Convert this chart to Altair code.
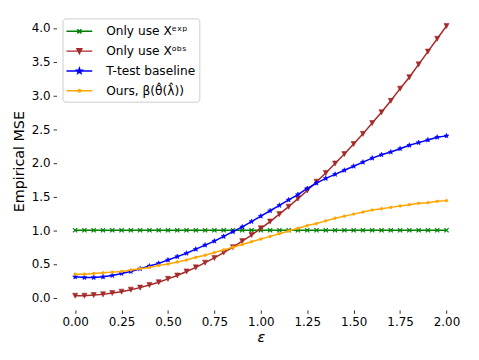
import altair as alt
import pandas as pd
import math

eps = [round(i * 0.05, 2) for i in range(41)]

names = ["Only use Xᵉˣᵖ", "Only use Xᵒᵇˢ", "T-test baseline", "Ours, β(θ̂(λ̂))"]
colors = ["#008000", "#a52a2a", "#0000ff", "#ffa500"]

mse_exp = [1.0] * 41
mse_obs = [0.03, 0.03, 0.04, 0.05, 0.07, 0.09, 0.12, 0.15, 0.19, 0.23, 0.28, 0.33, 0.39, 0.45,
           0.52, 0.59, 0.67, 0.75, 0.84, 0.93, 1.03, 1.13, 1.24, 1.35, 1.47, 1.59, 1.72, 1.85,
           1.99, 2.13, 2.28, 2.43, 2.59, 2.75, 2.92, 3.10, 3.27, 3.46, 3.65, 3.84, 4.03]
mse_ttest = [0.31, 0.30, 0.30, 0.31, 0.33, 0.36, 0.39, 0.43, 0.47, 0.51, 0.56, 0.61, 0.66, 0.72,
             0.78, 0.84, 0.91, 0.98, 1.05, 1.13, 1.21, 1.29, 1.37, 1.45, 1.53, 1.62, 1.70, 1.77,
             1.83, 1.89, 1.95, 2.01, 2.07, 2.12, 2.16, 2.21, 2.26, 2.30, 2.34, 2.38, 2.40]
mse_ours = [0.35, 0.35, 0.36, 0.37, 0.38, 0.39, 0.41, 0.43, 0.45, 0.48, 0.50, 0.53, 0.56, 0.60,
            0.63, 0.67, 0.71, 0.75, 0.79, 0.83, 0.87, 0.91, 0.95, 0.99, 1.03, 1.07, 1.10, 1.14,
            1.18, 1.21, 1.24, 1.27, 1.30, 1.32, 1.34, 1.36, 1.38, 1.40, 1.41, 1.43, 1.44]

x_ticks = [0, 0.25, 0.5, 0.75, 1.0, 1.25, 1.5, 1.75, 2.0]
y_ticks = [0, 0.5, 1.0, 1.5, 2.0, 2.5, 3.0, 3.5, 4.0]

series_vals = [mse_exp, mse_obs, mse_ttest, mse_ours]
rows = []
for n, vals in zip(names, series_vals):
    for e, v in zip(eps, vals):
        rows.append({"eps": e, "mse": v, "series": n})
df = pd.DataFrame(rows)


def star(r_out, r_in):
    pts = []
    for k in range(10):
        r = r_out if k % 2 == 0 else r_in
        a = -math.pi / 2 + k * math.pi / 5
        pts.append((r * math.cos(a), r * math.sin(a)))
    return "M" + "L".join(f"{x:.3f},{y:.3f}" for x, y in pts) + "Z"


def circ(r):
    return f"M{-r},0A{r},{r} 0 1,0 {r},0A{r},{r} 0 1,0 {-r},0Z"


def xmark(r):
    return f"M{-r},{-r}L{r},{r}M{-r},{r}L{r},{-r}"


def tri(r):
    return f"M{-r},{-r}L{r},{-r}L0,{r}Z"


marker_paths = [xmark(1), tri(1), star(1.1, 0.45), circ(1)]
marker_sizes = [18, 26, 22, 8]
marker_sw = [1.2, 0.6, 0.6, 0.5]

L = 1.625
legend_paths = [
    f"M{-L},0L{L},0" + xmark(0.26),
    f"M{-L},0L{L},0" + tri(0.3),
    f"M{-L},0L{L},0" + star(0.34, 0.14),
    f"M{-L},0L{L},0" + circ(0.16),
]

xenc = alt.X("eps:Q",
             scale=alt.Scale(domain=[-0.1, 2.1], nice=False, zero=False),
             axis=alt.Axis(values=x_ticks, format=".2f", title="ε",
                           titleFontStyle="italic", titlePadding=3, labelPadding=3.5))
yenc = alt.Y("mse:Q",
             scale=alt.Scale(domain=[-0.18, 4.23], nice=False, zero=False),
             axis=alt.Axis(values=y_ticks, format=".1f", title="Empirical MSE",
                           titlePadding=5, labelPadding=3))

layers = []
for n, c, p, s, sw in zip(names, colors, marker_paths, marker_sizes, marker_sw):
    base = alt.Chart(df).transform_filter(alt.datum.series == n)
    layers.append(base.mark_line(color=c, strokeWidth=1.5).encode(x=xenc, y=yenc))
    layers.append(base.mark_point(shape=p, size=s, filled=True, fill=c, stroke=c,
                                  strokeWidth=sw, opacity=1).encode(x=xenc, y=yenc))

leg = alt.Legend(title=None, orient="none", legendX=6, legendY=6,
                 symbolSize=256, symbolStrokeWidth=1.5, symbolOpacity=1,
                 symbolOffset=4, labelOffset=18, labelFontSize=12.3,
                 labelFont="DejaVu Sans", labelColor="black", labelLimit=300,
                 padding=4, rowPadding=4, fillColor="rgba(255,255,255,0.8)",
                 strokeColor="#cccccc", cornerRadius=3)

legend_layer = alt.Chart(df).mark_point(opacity=0, filled=True).encode(
    x=xenc, y=yenc,
    shape=alt.Shape("series:N", scale=alt.Scale(domain=names, range=legend_paths), legend=leg),
    fill=alt.Fill("series:N", scale=alt.Scale(domain=names, range=colors), legend=leg),
    stroke=alt.Stroke("series:N", scale=alt.Scale(domain=names, range=colors), legend=leg),
)
layers.append(legend_layer)

chart = alt.layer(*layers).properties(
    width=412, height=300,
    autosize=alt.AutoSizeParams(type="none"),
    padding={"left": 49, "top": 3, "right": 6, "bottom": 44},
).configure_view(stroke=None).configure_axis(
    domain=False, grid=False, tickColor="black", tickSize=3.5, tickWidth=0.8,
    labelFontSize=12, labelColor="black", labelFont="DejaVu Sans",
    titleFontSize=14.4, titleFont="DejaVu Sans",
    titleFontWeight="normal", titleColor="black",
)

chart.save("out.html", embed_options={"renderer": "svg", "actions": False})
